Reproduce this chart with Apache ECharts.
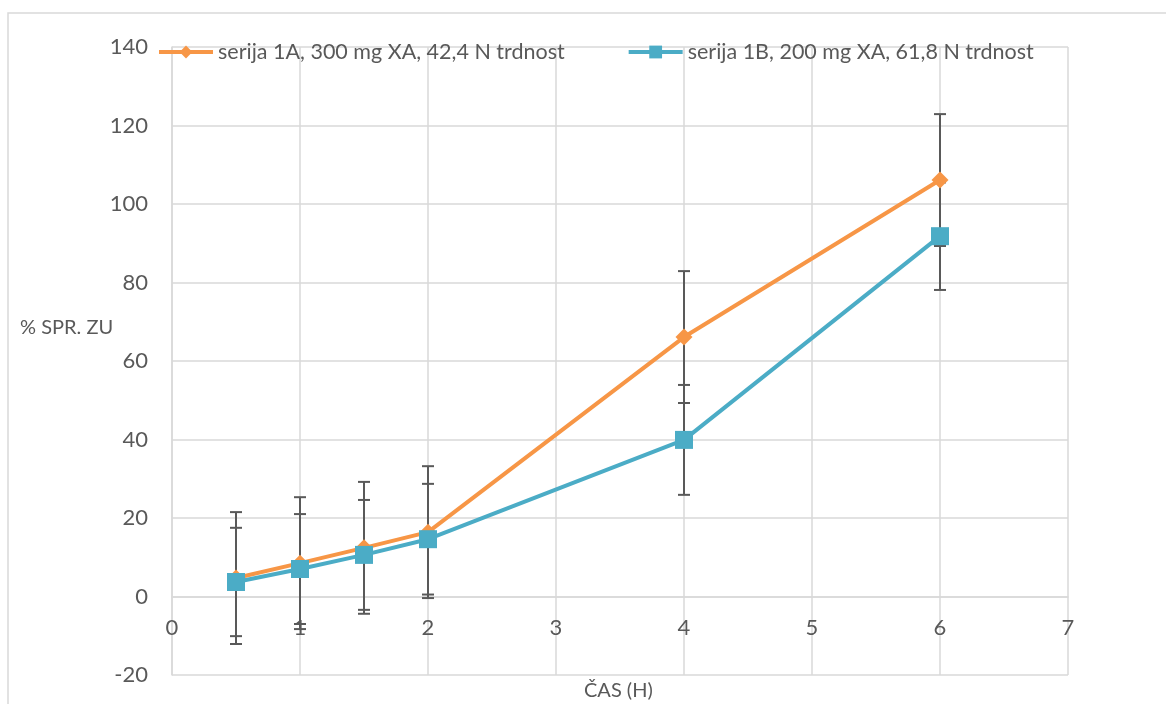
<!DOCTYPE html>
<html>
<head>
<meta charset="utf-8">
<script src="https://cdn.jsdelivr.net/npm/echarts@6/dist/echarts.min.js"></script>
<style>
  html, body { margin: 0; padding: 0; background: #fff; }
  #chart { width: 1166px; height: 704px; }
</style>
</head>
<body>
<div id="chart"></div>
<script>
// podatki, odčitani iz slike
const casH = [0.5, 1, 1.5, 2, 4, 6];
const serija1A = [4.7, 8.5, 12.4, 16.4, 66.1, 106.1];
const serija1B = [3.7, 7.0, 10.6, 14.6, 39.9, 91.8];
const napaka1A = [16.8, 16.8, 16.8, 16.8, 16.8, 16.8]; // odklon (fiksni)
const napaka1B = [13.8, 14.0, 14.0, 14.1, 14.0, 13.7];
const imeA = 'serija 1A, 300 mg XA, 42,4 N trdnost';
const imeB = 'serija 1B, 200 mg XA, 61,8 N trdnost';

const FONT = 'Lato';
const TXT = '#595959';
const GRID = '#d9d9d9';

// [x, spodaj, zgoraj] za error bare
function errData(vals, errs) {
    return casH.map((x, i) => [x, vals[i] - errs[i], vals[i] + errs[i]]);
}

function renderErr(params, api) {
    const x = api.value(0);
    const lo = api.coord([x, api.value(1)]);
    const hi = api.coord([x, api.value(2)]);
    const w = 6;
    const st = { stroke: '#595959', lineWidth: 2 };
    return {
        type: 'group',
        children: [
            { type: 'line', shape: { x1: lo[0], y1: lo[1], x2: hi[0], y2: hi[1] }, style: st },
            { type: 'line', shape: { x1: hi[0] - w, y1: hi[1], x2: hi[0] + w, y2: hi[1] }, style: st },
            { type: 'line', shape: { x1: lo[0] - w, y1: lo[1], x2: lo[0] + w, y2: lo[1] }, style: st }
        ]
    };
}

const chart = echarts.init(document.getElementById('chart'));
chart.setOption({
    backgroundColor: '#fff',
    animation: false,
    textStyle: { fontFamily: FONT, color: TXT },
    grid: { left: 172, right: 98, top: 47, bottom: 29 },
    legend: {
        left: 157,
        top: 41,
        padding: 0,
        itemWidth: 54,
        itemHeight: 16,
        itemGap: 62,
        lineStyle: { width: 4 },
        textStyle: { fontFamily: FONT, fontSize: 21.5, color: TXT },
        data: [imeA, imeB]
    },
    xAxis: {
        type: 'value',
        min: 0, max: 7, interval: 1,
        offset: -78.5, // os na y = 0
        axisLine: { show: true, onZero: false, lineStyle: { color: GRID, width: 1.5 } },
        axisTick: { show: false },
        axisLabel: { fontSize: 22, color: TXT, margin: 20, fontFamily: FONT },
        splitLine: { show: true, lineStyle: { color: GRID, width: 1.5 } }
    },
    yAxis: {
        type: 'value',
        min: -20, max: 140, interval: 20,
        axisLine: { show: true, lineStyle: { color: GRID, width: 1.5 } },
        axisTick: { show: false },
        axisLabel: { fontSize: 22, color: TXT, margin: 24, fontFamily: FONT },
        splitLine: { show: true, lineStyle: { color: GRID, width: 1.5 } }
    },
    graphic: [
        { type: 'rect', z: -10, shape: { x: 8, y: 13, width: 1170, height: 700 },
          style: { fill: 'none', stroke: GRID, lineWidth: 1.5 } },
        { type: 'text', left: 20, top: 318,
          style: { text: '% SPR. ZU', fontFamily: FONT, fontSize: 20, fill: TXT } },
        { type: 'text', left: 584, top: 681,
          style: { text: 'ČAS (H)', fontFamily: FONT, fontSize: 20, fill: TXT } }
    ],
    series: [
        { type: 'custom', name: 'errA', renderItem: renderErr, data: errData(serija1A, napaka1A), z: 1, silent: true },
        { type: 'custom', name: 'errB', renderItem: renderErr, data: errData(serija1B, napaka1B), z: 1, silent: true },
        {
            name: imeA, type: 'line', z: 3,
            data: casH.map((x, i) => [x, serija1A[i]]),
            symbol: 'diamond', symbolSize: 17,
            lineStyle: { color: '#f79646', width: 4 },
            itemStyle: { color: '#f79646' }
        },
        {
            name: imeB, type: 'line', z: 4,
            data: casH.map((x, i) => [x, serija1B[i]]),
            symbol: 'rect', symbolSize: 18,
            lineStyle: { color: '#4bacc6', width: 4 },
            itemStyle: { color: '#4bacc6' }
        }
    ]
});
</script>
</body>
</html>
